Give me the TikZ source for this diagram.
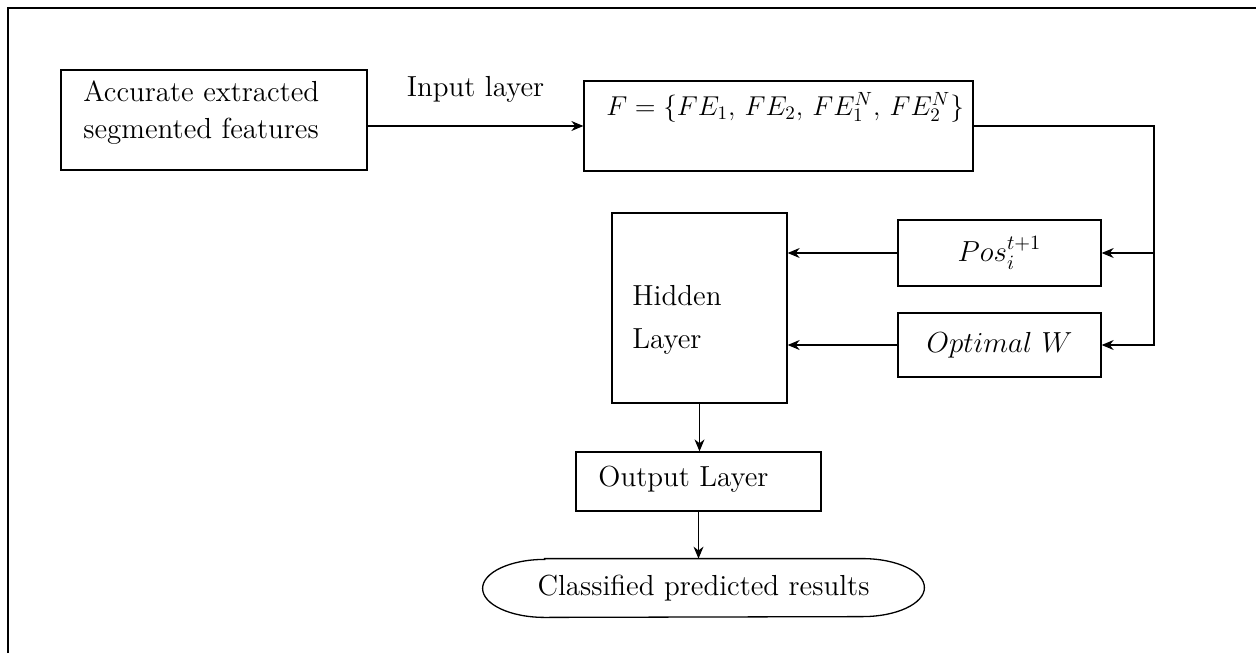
\RequirePackage{fix-cm}
\documentclass[tikz,border=0pt]{standalone}
\usepackage{amsfonts,amsmath}
\usepackage{tikz}
\usetikzlibrary{arrows.meta}

\begin{document}
\begin{tikzpicture}[x=0.5pt,y=-0.5pt,
  every node/.style={font=\fontsize{14.5}{18.5}\selectfont},
  blk/.style={draw,line width=0.65pt,inner sep=0pt},
  txt/.style={inner sep=0pt,align=left,anchor=west},
  conn/.style={-{Stealth[length=6pt,width=5pt]},line width=0.55pt}]
\useasboundingbox (0,0) rectangle (1256,653);
\draw[line width=1pt] (8,653) -- (8,8) -- (1256,8);

\node[blk,minimum width=153pt,minimum height=50pt] (feat) at (214,120) {};
\node[txt] (featT) at (83,113) {Accurate extracted\\segmented features};
\node[blk,minimum width=194.5pt,minimum height=45pt] (F) at (778.5,126) {};
\node[txt] (FT) at (606,107) {\scalebox{0.94}{$F=\{FE_1,\,FE_2,\,FE_1^N,\,FE_2^N\}$}};
\node[blk,minimum width=101.5pt,minimum height=33pt] (pos) at (999.5,253) {$Pos_i^{t+1}$};
\node[blk,minimum width=101.5pt,minimum height=32pt] (opt) at (999.5,345) {$Optimal\ W$};
\node[blk,minimum width=87.5pt,minimum height=95pt] (hid) at (699.5,308) {};
\node[txt,align=left] (hidT) at (632,320) {Hidden\\[3pt]Layer};
\node[blk,minimum width=122.5pt,minimum height=29.5pt] (out) at (698.5,481.5) {};
\node[txt] (outT) at (598,479) {Output Layer};
\node[minimum width=220.5pt,minimum height=29pt,inner sep=0pt] (res) at (703.5,588) {Classified predicted results};
\draw[line width=0.65pt] ([xshift=31pt]res.north west) -- ([xshift=-31pt]res.north east)
  arc[start angle=90,end angle=-90,x radius=31pt,y radius=14.5pt]
  -- ([xshift=31pt]res.south west)
  arc[start angle=270,end angle=90,x radius=31pt,y radius=14.5pt] -- cycle;
\coordinate (bend) at (1154,345);

\draw[conn] (feat.east |- F.west) -- node[above=8pt] (inlbl) {Input layer} (F.west);
\draw[conn] (F.east) -| (bend |- opt.east) -- (opt.east);
\draw[conn] (bend |- pos.east) -- (pos.east);
\draw[conn] (pos.west) -- (pos.west -| hid.east);
\draw[conn] (opt.west) -- (opt.west -| hid.east);
\draw[conn] (hid.south) -- (hid.south |- out.north);
\draw[conn] (out.south) -- (out.south |- res.north);
\end{tikzpicture}
\end{document}
